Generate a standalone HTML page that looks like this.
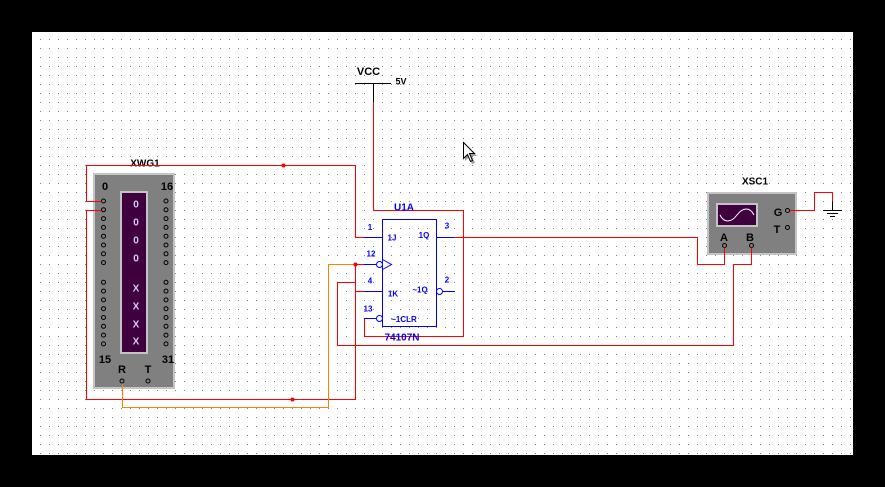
<!DOCTYPE html>
<html><head><meta charset="utf-8"><style>
html,body{margin:0;padding:0;background:#000;}
svg{display:block;}
text{font-family:"Liberation Sans",Arial,sans-serif;font-weight:bold;}
</style></head><body>
<svg width="885" height="487" viewBox="0 0 885 487" xmlns="http://www.w3.org/2000/svg">
<defs>
<pattern id="g" x="40" y="39" width="9" height="9" patternUnits="userSpaceOnUse">
<rect x="0" y="0" width="1" height="1" fill="#808080"/>
</pattern>
</defs>
<rect x="0" y="0" width="885" height="487" fill="#000"/>
<rect x="32" y="32" width="821" height="423" fill="#fff"/>
<rect x="32" y="32" width="821" height="423" fill="url(#g)" shape-rendering="crispEdges"/>

<!-- XWG1 -->
<rect x="93" y="173" width="82" height="216" fill="#c4c4c4"/>
<rect x="95" y="175" width="78" height="212" fill="#808080"/>
<rect x="120" y="191" width="28" height="163" fill="#c4c4c4"/>
<rect x="122" y="193" width="24" height="159" fill="#400040"/>
<g fill="#d4ccf0" font-size="10" text-anchor="middle">
<text x="136" y="207.5">0</text><text x="136" y="225.5">0</text><text x="136" y="243.5">0</text><text x="136" y="261.5">0</text>
<text x="136" y="291.5">X</text><text x="136" y="309.5">X</text><text x="136" y="327.5">X</text><text x="136" y="344.5">X</text>
</g>
<g fill="#000" font-size="11" text-anchor="middle">
<text x="145" y="166.5" font-size="10">XWG1</text>
<text x="105" y="190">0</text><text x="167" y="190">16</text>
<text x="105" y="363">15</text><text x="168" y="363">31</text>
<text x="122" y="373">R</text><text x="148" y="373">T</text>
</g>
<g stroke="#000" stroke-width="1" fill="none">
<circle cx="103.5" cy="201" r="2"/><circle cx="103.5" cy="209.8" r="2"/><circle cx="103.5" cy="218.6" r="2"/><circle cx="103.5" cy="227.4" r="2"/>
<circle cx="103.5" cy="236.2" r="2"/><circle cx="103.5" cy="245" r="2"/><circle cx="103.5" cy="253.8" r="2"/><circle cx="103.5" cy="262.6" r="2"/>
<circle cx="103.5" cy="282.3" r="2"/><circle cx="103.5" cy="291.1" r="2"/><circle cx="103.5" cy="299.9" r="2"/><circle cx="103.5" cy="308.7" r="2"/>
<circle cx="103.5" cy="317.5" r="2"/><circle cx="103.5" cy="326.3" r="2"/><circle cx="103.5" cy="335.1" r="2"/><circle cx="103.5" cy="343.9" r="2"/>
<circle cx="166" cy="201" r="2"/><circle cx="166" cy="209.8" r="2"/><circle cx="166" cy="218.6" r="2"/><circle cx="166" cy="227.4" r="2"/>
<circle cx="166" cy="236.2" r="2"/><circle cx="166" cy="245" r="2"/><circle cx="166" cy="253.8" r="2"/><circle cx="166" cy="262.6" r="2"/>
<circle cx="166" cy="282.3" r="2"/><circle cx="166" cy="291.1" r="2"/><circle cx="166" cy="299.9" r="2"/><circle cx="166" cy="308.7" r="2"/>
<circle cx="166" cy="317.5" r="2"/><circle cx="166" cy="326.3" r="2"/><circle cx="166" cy="335.1" r="2"/><circle cx="166" cy="343.9" r="2"/>
<circle cx="122" cy="381" r="2"/><circle cx="148" cy="381" r="2"/>
</g>

<!-- XSC1 -->
<rect x="707" y="192" width="90" height="63" fill="#c4c4c4"/>
<rect x="709" y="194" width="86" height="59" fill="#808080"/>
<rect x="716" y="203" width="42" height="24" fill="#c4c4c4"/>
<rect x="718" y="205" width="38" height="20" fill="#400040"/>
<path d="M720,215 C724,223 731,223 737,215 C743,207 750,207 754,215" stroke="#fff" stroke-width="1" fill="none"/>
<g fill="#000" font-size="11" text-anchor="middle">
<text x="755" y="184.5" font-size="10">XSC1</text>
<text x="724" y="241">A</text><text x="750" y="241">B</text>
<text x="778" y="216">G</text><text x="777" y="233">T</text>
</g>
<g stroke="#000" stroke-width="1" fill="none">
<circle cx="724.5" cy="245.5" r="2"/><circle cx="751.5" cy="245.5" r="2"/>
<circle cx="787.5" cy="210.5" r="2"/><circle cx="787.5" cy="227.5" r="2"/>
</g>

<!-- wires -->
<g fill="none" stroke-width="1" shape-rendering="crispEdges">
<polyline stroke="#ff0000" points="101.5,201.5 86.5,201.5 86.5,165.5 355.5,165.5 355.5,237.5 364.5,237.5"/>
<polyline stroke="#ff0000" points="101.5,210.5 86.5,210.5 86.5,399.5 355.5,399.5 355.5,264.5 364.5,264.5"/>
<polyline stroke="#ff0000" points="355.5,291.5 364.5,291.5"/>
<polyline stroke="#ff0000" points="355.5,282.5 337.5,282.5 337.5,345.5 733.5,345.5 733.5,264.5 751.5,264.5 751.5,247.5"/>
<polyline stroke="#ff8000" points="122.5,383.5 122.5,407.5 328.5,407.5 328.5,264.5 355.5,264.5"/>
<polyline stroke="#ff0000" points="373.5,101.5 373.5,210.5 463.5,210.5 463.5,336.5 364.5,336.5 364.5,318.5"/>
<polyline stroke="#ff0000" points="453.5,237.5 697.5,237.5 697.5,264.5 724.5,264.5 724.5,247.5"/>
<polyline stroke="#ff0000" points="789.5,210.5 814.5,210.5 814.5,192.5 832.5,192.5 832.5,201.5"/>
<polyline stroke="#000" points="832.5,201.5 832.5,210.5"/>
<line stroke="#000" x1="823" y1="210.5" x2="842" y2="210.5"/>
<line stroke="#000" x1="827" y1="213.5" x2="838" y2="213.5"/>
<line stroke="#000" x1="830" y1="216.5" x2="835" y2="216.5"/>
<!-- VCC -->
<line stroke="#000" x1="355" y1="83.5" x2="391" y2="83.5"/>
<line stroke="#000" x1="373.5" y1="83" x2="373.5" y2="102"/>
<!-- chip pins blue -->
<rect stroke="#0000ff" x="382.5" y="219.5" width="54" height="107"/>
<line stroke="#0000ff" x1="364" y1="237.5" x2="382" y2="237.5"/>
<line stroke="#0000ff" x1="364" y1="264.5" x2="376" y2="264.5"/>
<line stroke="#0000ff" x1="364" y1="291.5" x2="382" y2="291.5"/>
<line stroke="#0000ff" x1="364" y1="318.5" x2="376" y2="318.5"/>
<line stroke="#0000ff" x1="437" y1="237.5" x2="454" y2="237.5"/>
<line stroke="#0000ff" x1="442" y1="291.5" x2="455" y2="291.5"/>
</g>
<g fill="none" stroke="#0000ff" stroke-width="1">
<circle cx="379.5" cy="264.5" r="3"/>
<circle cx="379.5" cy="318.5" r="3"/>
<circle cx="439.5" cy="291.5" r="3"/>
<polyline points="382.5,259.5 391.5,264.5 382.5,269.5"/>
</g>
<g fill="#ff0000">
<circle cx="283.5" cy="165.5" r="2"/>
<circle cx="355.5" cy="264.5" r="2"/>
<circle cx="292.5" cy="399.5" r="2"/>
</g>

<!-- chip text -->
<g fill="#0000ff" font-size="8" text-anchor="middle">
<text x="404" y="210.5" font-size="10">U1A</text>
<text x="370" y="230">1</text>
<text x="447" y="228.5">3</text>
<text x="392" y="240.5">1J</text>
<text x="424" y="238">1Q</text>
<text x="371" y="256.5">12</text>
<text x="370" y="283.5">4</text>
<text x="447" y="282.5">2</text>
<text x="393" y="296.5">1K</text>
<text x="420" y="292.5">~1Q</text>
<text x="368" y="311.5">13</text>
<text x="404" y="322">~1CLR</text>
<text x="402" y="340.5" font-size="10">74107N</text>
</g>
<g fill="#000" text-anchor="middle">
<text x="368.5" y="75" font-size="11">VCC</text>
<text x="401" y="84.5" font-size="9">5V</text>
</g>

<!-- cursor -->
<polygon points="465,144 465,161 469,157 472,164 475,163 472,156 477,156" fill="#9a9a9a"/>
<polygon points="463.5,142.5 463.5,158.5 467.5,154.5 470.5,161.5 472.5,160.5 469.5,153.5 474.5,153.5" fill="#fff" stroke="#000" stroke-width="1"/>
</svg>
</body></html>
